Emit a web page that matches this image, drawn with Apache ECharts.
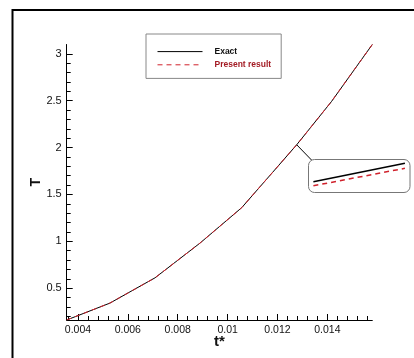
<!DOCTYPE html>
<html>
<head>
<meta charset="utf-8">
<script src="https://cdn.jsdelivr.net/npm/echarts@6/dist/echarts.min.js"></script>
<style>
  html, body { margin: 0; padding: 0; background: #fff; }
  #chart { width: 414px; height: 358px; }
</style>
</head>
<body>
<div id="chart"></div>
<script>
// Temperature T versus dimensionless time t*
const tStar    = [0.00355, 0.00528, 0.00709, 0.00889, 0.01057, 0.01277, 0.01416, 0.01580];
const exactT   = [0.16, 0.34, 0.61, 0.98, 1.36, 2.03, 2.49, 3.10];
const presentT = [0.16, 0.34, 0.61, 0.98, 1.36, 2.03, 2.49, 3.10];

// Magnified view near the marked point
const insetTime    = [0.01269, 0.01287];
const insetExact   = [2.021, 2.058];
const insetPresent = [2.013, 2.048];
const calloutPoint = [0.01277, 2.03];

// Axis ticks
const xMajorTicks = [0.004, 0.006, 0.008, 0.01, 0.012, 0.014];
const xMinorTicks = [0.0036, 0.0040, 0.0044, 0.0048, 0.0052, 0.0056, 0.0060, 0.0064, 0.0068,
                     0.0072, 0.0076, 0.0080, 0.0084, 0.0088, 0.0092, 0.0096, 0.0100, 0.0104,
                     0.0108, 0.0112, 0.0116, 0.0120, 0.0124, 0.0128, 0.0132, 0.0136, 0.0140,
                     0.0144, 0.0148, 0.0152, 0.0156];
const yMajorTicks = [0.5, 1, 1.5, 2, 2.5, 3];
const yMinorTicks = [0.2, 0.3, 0.4, 0.5, 0.6, 0.7, 0.8, 0.9, 1.0, 1.1, 1.2, 1.3, 1.4, 1.5, 1.6,
                     1.7, 1.8, 1.9, 2.0, 2.1, 2.2, 2.3, 2.4, 2.5, 2.6, 2.7, 2.8, 2.9, 3.0];

const X_MIN = 0.00355, X_MAX = 0.0158;
const Y_MIN = 0.16, Y_MAX = 3.1;

const RED = '#d0222c';
const FONT = '"Liberation Sans", Arial, sans-serif';

const pairs = (xs, ys) => xs.map((x, i) => [x, ys[i]]);

const chart = echarts.init(document.getElementById('chart'), null, { renderer: 'canvas' });

const hiddenAxis = (extra) => Object.assign({
  type: 'value',
  axisLine: { show: false },
  axisTick: { show: false },
  axisLabel: { show: false },
  splitLine: { show: false }
}, extra);

chart.setOption({
  backgroundColor: '#fff',
  animation: false,
  grid: [
    { left: 66.7, right: 41.7, top: 44.5, bottom: 38, containLabel: false },
    { left: 308.3, top: 159.3, width: 101.7, height: 33 }
  ],
  legend: {
    orient: 'vertical',
    left: 146,
    top: 34,
    padding: [12, 10, 8, 11],
    itemWidth: 45,
    itemHeight: 14,
    itemGap: 2,
    borderColor: '#888',
    borderWidth: 1,
    backgroundColor: '#fff',
    z: 10,
    itemStyle: { opacity: 0 },
    lineStyle: { width: 1 },
    textStyle: { fontFamily: FONT, fontSize: 8.5, fontWeight: 'bold', padding: [0, 0, 0, 7] },
    data: [
      { name: 'Exact', textStyle: { color: '#111' } },
      { name: 'Present result', textStyle: { color: '#a31b24' } }
    ]
  },
  xAxis: [
    {
      type: 'value', gridIndex: 0, position: 'bottom',
      min: X_MIN, max: X_MAX,
      name: 't*', nameLocation: 'middle', nameGap: 14, nameMoveOverlap: false,
      nameTextStyle: { fontFamily: FONT, fontSize: 15, fontWeight: 'bold', color: '#111' },
      axisLine: { lineStyle: { color: '#000', width: 1 } },
      axisTick: { inside: true, length: 6, customValues: xMajorTicks, lineStyle: { color: '#000' } },
      axisLabel: { customValues: xMajorTicks, margin: 5, fontFamily: FONT, fontSize: 10.5, color: '#111' },
      splitLine: { show: false }
    },
    hiddenAxis({
      gridIndex: 0, position: 'bottom', min: X_MIN, max: X_MAX,
      axisTick: { show: true, inside: true, length: 4, customValues: xMinorTicks, lineStyle: { color: '#000', width: 1 } }
    }),
    hiddenAxis({ gridIndex: 1, min: 0.01268, max: 0.01288 })
  ],
  yAxis: [
    {
      type: 'value', gridIndex: 0, position: 'left',
      min: Y_MIN, max: Y_MAX,
      name: 'T', nameLocation: 'middle', nameGap: 24, nameRotate: 90, nameMoveOverlap: false,
      nameTextStyle: { fontFamily: FONT, fontSize: 14, fontWeight: 'bold', color: '#111' },
      axisLine: { lineStyle: { color: '#000', width: 1 } },
      axisTick: { inside: true, length: 6, customValues: yMajorTicks, lineStyle: { color: '#000' } },
      axisLabel: { customValues: yMajorTicks, margin: 5, fontFamily: FONT, fontSize: 11, color: '#111' },
      splitLine: { show: false }
    },
    hiddenAxis({
      gridIndex: 0, position: 'left', min: Y_MIN, max: Y_MAX,
      axisTick: { show: true, inside: true, length: 4, customValues: yMinorTicks, lineStyle: { color: '#000', width: 1 } }
    }),
    hiddenAxis({ gridIndex: 1, min: 2.0, max: 2.066 })
  ],
  series: [
    {
      name: 'Exact', type: 'line', xAxisIndex: 0, yAxisIndex: 0,
      data: pairs(tStar, exactT), symbol: 'none', silent: true,
      lineStyle: { color: '#000', width: 1 }, itemStyle: { color: '#000' }
    },
    {
      name: 'Present result', type: 'line', xAxisIndex: 0, yAxisIndex: 0,
      data: pairs(tStar, presentT), symbol: 'none', silent: true,
      lineStyle: { color: RED, width: 1, type: [5, 4] }, itemStyle: { color: RED }
    },
    {
      name: 'Exact', type: 'line', xAxisIndex: 2, yAxisIndex: 2,
      data: pairs(insetTime, insetExact), symbol: 'none', silent: true,
      lineStyle: { color: '#000', width: 1.5 }
    },
    {
      name: 'Present result', type: 'line', xAxisIndex: 2, yAxisIndex: 2,
      data: pairs(insetTime, insetPresent), symbol: 'none', silent: true,
      lineStyle: { color: RED, width: 1.5, type: [5, 4] }
    }
  ]
});

// Outer frame, inset box and the leader line to the magnified point
const p = chart.convertToPixel({ xAxisIndex: 0, yAxisIndex: 0 }, calloutPoint);
chart.setOption({
  graphic: [
    {
      type: 'rect', silent: true, z: 0,
      shape: { x: 12.5, y: 10, width: 600, height: 600 },
      style: { fill: null, stroke: '#000', lineWidth: 2 }
    },
    {
      type: 'rect', silent: true, z: 5,
      shape: { x: 308.5, y: 159.5, width: 101.5, height: 33, r: 6 },
      style: { fill: null, stroke: '#777', lineWidth: 1 }
    },
    {
      type: 'line', silent: true, z: 5,
      shape: { x1: p[0], y1: p[1], x2: 311.5, y2: 160 },
      style: { stroke: '#000', lineWidth: 1 }
    }
  ]
});
</script>
</body>
</html>
